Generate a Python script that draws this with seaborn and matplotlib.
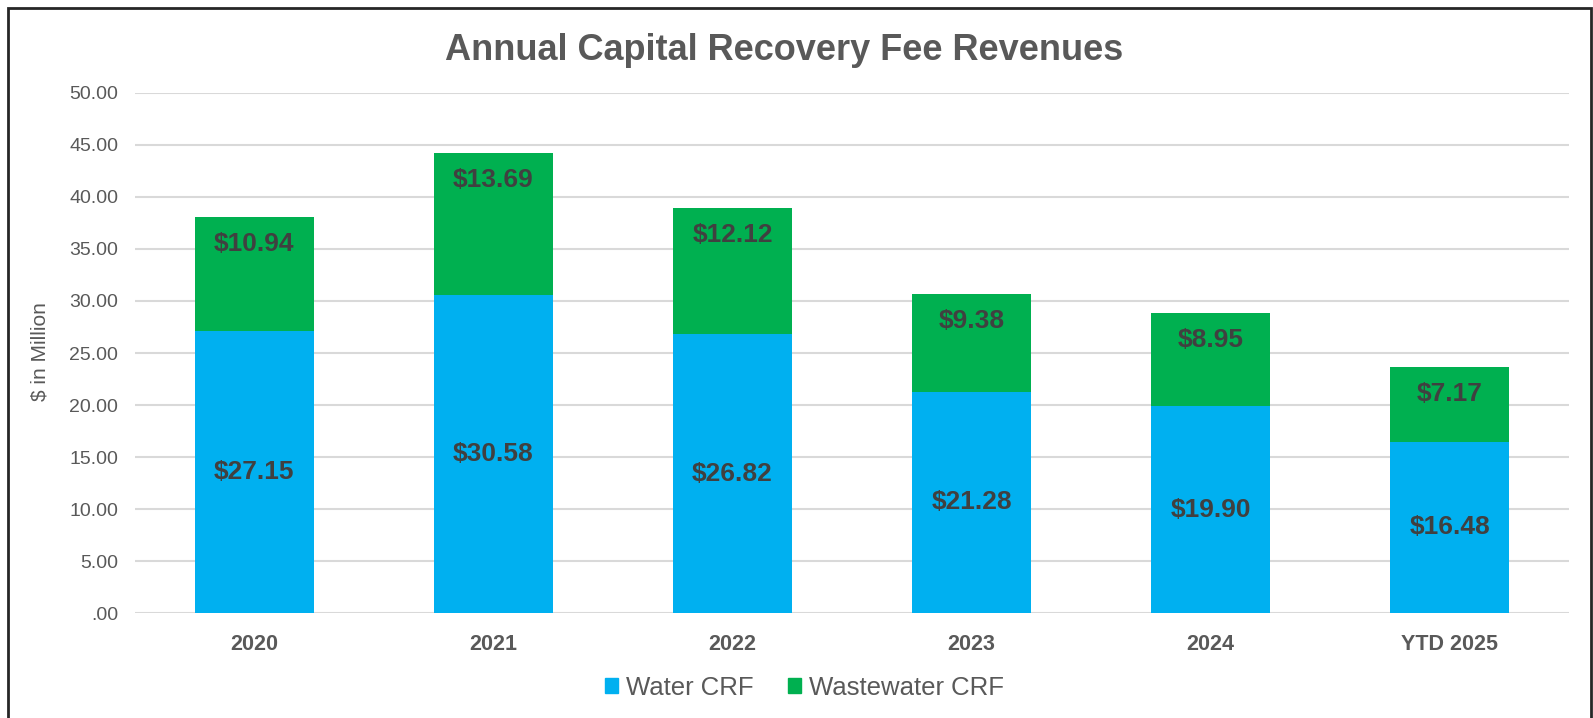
import matplotlib
matplotlib.use("Agg")
import matplotlib.pyplot as plt
import seaborn as sns
import pandas as pd
from matplotlib.patches import Rectangle, Patch
from matplotlib.ticker import FuncFormatter

years = ["2020", "2021", "2022", "2023", "2024", "YTD 2025"]
water_crf = [27.15, 30.58, 26.82, 21.28, 19.90, 16.48]
wastewater_crf = [10.94, 13.69, 12.12, 9.38, 8.95, 7.17]

df = pd.DataFrame({"year": years, "water": water_crf, "wastewater": wastewater_crf})
df["total"] = df["water"] + df["wastewater"]

sns.set_theme(style="white")
plt.rcParams["font.family"] = ["Liberation Sans", "DejaVu Sans"]

blue = "#00B0F0"
green = "#00B050"
grey = "#595959"
dark = "#404040"

fig = plt.figure(figsize=(15.93, 7.18), dpi=100)
ax = fig.add_axes([0.0847, 0.1462, 0.9003, 0.7243])

# stacked: totals (green) behind, water (blue) in front
sns.barplot(data=df, x="year", y="total", color=green, width=0.5, saturation=1,
            linewidth=0, ax=ax, zorder=2)
sns.barplot(data=df, x="year", y="water", color=blue, width=0.5, saturation=1,
            linewidth=0, ax=ax, zorder=3)

for i, row in df.iterrows():
    ax.text(i, row["water"] / 2, f"${row['water']:.2f}", ha="center", va="center",
            fontsize=19, fontweight="bold", color=dark, zorder=5)
    ax.annotate(f"${row['wastewater']:.2f}", (i, row["total"]), xytext=(0, -27),
                textcoords="offset pixels", ha="center", va="center",
                fontsize=19, fontweight="bold", color=dark, zorder=5)

ax.set_ylim(0, 50)
ax.set_yticks(range(0, 51, 5))
ax.yaxis.set_major_formatter(FuncFormatter(lambda v, p: ".00" if v == 0 else f"{v:.2f}"))
ax.grid(axis="y", color="#D9D9D9", linewidth=1.5, zorder=0)
ax.set_axisbelow(True)
for s in ax.spines.values():
    s.set_visible(False)
ax.tick_params(axis="y", labelsize=14, colors=grey, length=0, pad=12)
ax.tick_params(axis="x", labelsize=15.5, colors=grey, length=0, pad=15)
for lbl in ax.get_xticklabels():
    lbl.set_fontweight("bold")
ax.set_xlabel("")
ax.set_ylabel("")

fig.text(0.025, 0.51, "$ in Million", rotation=90, ha="center", va="center",
         fontsize=15, color=grey)
fig.text(0.492, 0.93, "Annual Capital Recovery Fee Revenues", ha="center", va="center",
         fontsize=26, fontweight="bold", color=grey)

handles = [Patch(color=blue, label="Water CRF"), Patch(color=green, label="Wastewater CRF")]
fig.legend(handles=handles, loc="center", bbox_to_anchor=(0.505, 0.042), ncol=2,
           frameon=False, fontsize=18.5, labelcolor=grey, handlelength=0.5,
           handleheight=0.5, handletextpad=0.3, columnspacing=1.35)

fig.patches.append(Rectangle((8 / 1593, -0.02), 1583 / 1593, 1.02 - 8 / 718,
                             transform=fig.transFigure, fill=False,
                             edgecolor="#262626", linewidth=2))

fig.savefig("out.png", dpi=100)
